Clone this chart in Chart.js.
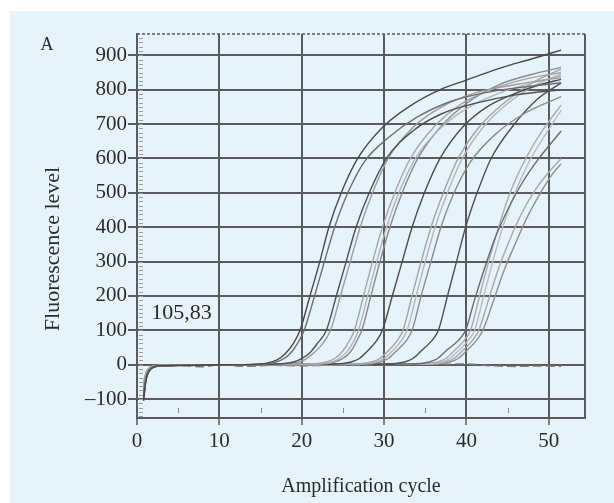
<!DOCTYPE html>
<html>
<head>
<meta charset="utf-8">
<style>
  html, body { margin: 0; padding: 0; background: #ffffff; }
  #wrap { position: relative; width: 614px; height: 503px; }
</style>
<script src="https://cdn.jsdelivr.net/npm/chart.js@4.4.1/dist/chart.umd.min.js"></script>
</head>
<body>
<div id="wrap"><canvas id="pcrChart" width="614" height="503"></canvas></div>
<script>
// axis ticks
const xTickValues = [0, 10, 20, 30, 40, 50];
const yTickValues = [-100, 0, 100, 200, 300, 400, 500, 600, 700, 800, 900];
const yTickLabels = ["\u2013100", "0", "100", "200", "300", "400", "500", "600", "700", "800", "900"];
const thresholdLabel = "105,83";
const yAxisTitle = "Fluorescence level";
const xAxisTitle = "Amplification cycle";

// amplification curves, [cycle, fluorescence]
const curve01 = [[0.8,-105],[1.1,-45],[1.5,-18],[2.2,-6],[3,-2],[6,-2],[10,0],[14,1],[16,6],[17,14],[18,32],[19,62],[19.8,100],[21,200],[22.2,300],[23.3,400],[24.8,500],[26.8,600],[29.8,690],[33,750],[36.8,800],[40,828],[44,862],[48,890],[51.5,915]];
const curve02 = [[0.8,-80],[1.1,-38],[1.5,-15],[2.2,-5],[3,-3],[6,-1],[10,0],[14,0],[16.5,5],[17.5,13],[18.5,30],[19.5,62],[20.3,100],[21.5,195],[22.7,295],[24,400],[25.6,500],[27.6,590],[30.5,660],[34,720],[38,765],[42,790],[46,805],[51.5,820]];
const curve03 = [[0.8,-95],[1.1,-40],[1.5,-16],[2.2,-5],[3,-3],[8,-2],[12,0],[17,2],[19,8],[20,18],[21,35],[22,65],[23,100],[24.2,200],[25.4,300],[26.6,400],[28.2,500],[30.3,600],[33.5,680],[37,730],[41,760],[46,785],[51.5,800]];
const curve04 = [[0.8,-70],[1.1,-30],[1.5,-12],[2.2,-4],[3,-2],[10,0],[18,3],[20,10],[21,25],[22.5,60],[23.5,100],[24.7,200],[25.9,300],[27.1,400],[28.6,500],[30.5,600],[33.5,690],[37,750],[41,790],[46,815],[51.5,835]];
const curve05 = [[0.8,-60],[1.1,-26],[1.5,-10],[2.2,-4],[3,-2],[10,0],[21,2],[23,8],[24,18],[25,40],[25.8,70],[26.4,100],[27.5,200],[28.6,300],[29.8,400],[31.3,500],[33.2,600],[36,690],[39.5,760],[43,800],[47,830],[51.5,850]];
const curve06 = [[0.8,-50],[1.1,-22],[1.5,-9],[2.2,-3],[3,-2],[10,0],[21,1],[23.5,7],[24.5,17],[25.5,38],[26.3,68],[26.9,100],[28,200],[29.1,300],[30.3,400],[31.8,500],[33.8,600],[36.5,680],[40,745],[44,790],[48,820],[51.5,840]];
const curve07 = [[0.8,-85],[1.1,-36],[1.5,-14],[2.2,-5],[3,-3],[10,0],[22,2],[24,8],[25,18],[26,40],[26.7,70],[27.3,100],[28.4,200],[29.5,300],[30.7,400],[32.2,500],[34.1,600],[36.8,690],[40,760],[44,815],[48,845],[51.5,865]];
const curve08 = [[0.8,-100],[1.1,-42],[1.5,-17],[2.2,-6],[3,-3],[10,0],[24,2],[26,8],[27,18],[28,40],[29.1,70],[29.8,100],[31,200],[32.2,300],[33.4,400],[34.9,500],[36.8,600],[39.5,690],[42.5,750],[46,790],[49,815],[51.5,830]];
const curve09 = [[0.8,-65],[1.1,-28],[1.5,-11],[2.2,-4],[3,-2],[10,0],[26,2],[28.5,8],[29.5,18],[30.5,40],[31.6,70],[32.3,100],[33.4,200],[34.5,300],[35.7,400],[37.2,500],[39,600],[41.5,690],[44.5,760],[48,820],[51.5,860]];
const curve10 = [[0.8,-55],[1.1,-24],[1.5,-10],[2.2,-3],[3,-2],[10,0],[27,2],[29,8],[30,18],[31,40],[32.1,70],[32.8,100],[33.9,200],[35,300],[36.2,400],[37.7,500],[39.5,600],[42,690],[45,760],[48.5,815],[51.5,845]];
const curve11 = [[0.8,-75],[1.1,-32],[1.5,-13],[2.2,-4],[3,-2],[10,0],[27.5,2],[29.5,8],[30.5,18],[31.5,40],[32.7,70],[33.4,100],[34.5,200],[35.7,300],[36.9,400],[38.5,500],[40.5,590],[43.5,670],[47,730],[51.5,780]];
const curve12 = [[0.8,-90],[1.1,-38],[1.5,-15],[2.2,-5],[3,-3],[10,0],[30,2],[32.5,8],[33.5,18],[34.5,40],[35.8,70],[36.6,100],[37.7,200],[38.8,300],[39.9,400],[41.3,500],[43,600],[45.5,690],[48.5,770],[51.5,820]];
const curve13 = [[0.8,-80],[1.1,-34],[1.5,-13],[2.2,-5],[3,-3],[10,0],[33,2],[35.5,8],[36.5,18],[37.5,40],[39,70],[39.9,100],[41,190],[42.2,280],[43.5,370],[45,450],[46.8,530],[48.8,600],[51.5,680]];
const curve14 = [[0.8,-60],[1.1,-26],[1.5,-10],[2.2,-4],[3,-2],[10,0],[34,2],[36.5,8],[37.5,18],[38.5,40],[39.7,70],[40.5,100],[41.6,200],[42.7,300],[43.9,400],[45.3,500],[47,590],[49.2,680],[51.5,755]];
const curve15 = [[0.8,-50],[1.1,-22],[1.5,-9],[2.2,-3],[3,-2],[10,0],[35,2],[37,8],[38,18],[39,40],[40.2,70],[41,100],[42.1,200],[43.2,300],[44.4,400],[45.9,500],[47.6,590],[49.6,670],[51.5,740]];
const curve16 = [[0.8,-70],[1.1,-30],[1.5,-12],[2.2,-4],[3,-2],[10,0],[35.5,2],[37.5,8],[38.5,18],[39.5,40],[40.7,70],[41.5,100],[42.7,190],[43.9,280],[45.2,360],[46.7,440],[48.4,510],[50,560],[51.5,600]];
const curve17 = [[0.8,-90],[1.1,-38],[1.5,-15],[2.2,-5],[3,-3],[10,0],[36,2],[38,8],[39,18],[40,40],[41.2,70],[42,100],[43.2,180],[44.5,270],[45.9,350],[47.4,430],[49,500],[50.3,550],[51.5,585]];
const negControl = [[0.8,-60],[1.1,-25],[1.5,-10],[2.2,-3],[3,-4],[5,-2],[8,-6],[10,0],[13,-5],[16,-2],[20,-3],[25,-1],[30,0],[35,1],[40,2],[43,-3],[46,-5],[49,-4],[51.5,-5]];

const curves = [curve01, curve02, curve03, curve04, curve05, curve06, curve07, curve08, curve09,
  curve10, curve11, curve12, curve13, curve14, curve15, curve16, curve17, negControl];
const curveColors = ["#4a4a4a", "#6e6e6e", "#505050", "#9c9c9c", "#a6a6a6", "#b4b4b4", "#8a8a8a", "#4c4c4c", "#a4a4a4",
  "#b6b6b6", "#8c8c8c", "#505050", "#6a6a6a", "#acacac", "#bcbcbc", "#a8a8a8", "#909090", "#7a7a7a"];

const ink = "#2b2b2b";
const gridInk = "#5b5b5b";
const serif = "'Liberation Serif', 'Times New Roman', serif";

const panelPlugin = {
  id: "panel",
  beforeDraw(chart) {
    const ctx = chart.ctx;
    ctx.save();
    ctx.fillStyle = "#ffffff";
    ctx.fillRect(0, 0, chart.width, chart.height);
    ctx.fillStyle = "#e6f3fb";
    ctx.fillRect(10, 11, chart.width - 10, chart.height - 11);
    ctx.restore();
  },
  afterDraw(chart) {
    const { ctx, chartArea: a, scales } = chart;
    ctx.save();
    // top (dashed) and right frame
    ctx.strokeStyle = gridInk;
    ctx.lineWidth = 1.5;
    ctx.setLineDash([3, 2]);
    ctx.beginPath();
    ctx.moveTo(a.left, a.top);
    ctx.lineTo(a.right, a.top);
    ctx.stroke();
    ctx.setLineDash([]);
    ctx.lineWidth = 2;
    ctx.beginPath();
    ctx.moveTo(a.right, a.top);
    ctx.lineTo(a.right, a.bottom);
    ctx.stroke();

    // minor ticks inside left edge
    ctx.strokeStyle = "#9a9a9a";
    ctx.lineWidth = 1;
    for (let v = -150; v <= 960; v += 12.5) {
      const y = Math.round(scales.y.getPixelForValue(v)) + 0.5;
      ctx.beginPath();
      ctx.moveTo(a.left + 2, y);
      ctx.lineTo(a.left + 6, y);
      ctx.stroke();
    }
    // minor ticks above bottom edge
    ctx.strokeStyle = "#8a8a8a";
    for (let c = 5; c < 54; c += 10) {
      const x = Math.round(scales.x.getPixelForValue(c)) + 0.5;
      ctx.beginPath();
      ctx.moveTo(x, a.bottom - 10);
      ctx.lineTo(x, a.bottom - 5);
      ctx.stroke();
    }

    ctx.fillStyle = ink;
    ctx.textAlign = "center";
    ctx.textBaseline = "middle";
    ctx.font = "22px " + serif;
    ctx.fillText(thresholdLabel, scales.x.getPixelForValue(5.4), scales.y.getPixelForValue(151));
    ctx.font = "18px " + serif;
    ctx.fillText("A", 47, 45);

    // y axis title, sits a little below the middle of the plot
    ctx.translate(53, 249);
    ctx.rotate(-Math.PI / 2);
    ctx.font = "22px " + serif;
    ctx.fillText(yAxisTitle, 0, 0);
    ctx.restore();
  }
};

const datasets = curves.map((pts, i) => ({
  data: pts.map(([x, y]) => ({ x, y })),
  borderColor: curveColors[i],
  borderWidth: 1.4,
  borderDash: curves[i] === negControl ? [9, 4] : [],
  pointRadius: 0,
  fill: false,
  cubicInterpolationMode: "monotone",
}));

new Chart(document.getElementById("pcrChart"), {
  type: "line",
  data: { datasets },
  options: {
    responsive: false,
    animation: false,
    events: [],
    layout: { padding: { top: 34, right: 29, left: 0, bottom: 0 } },
    plugins: { legend: { display: false }, tooltip: { enabled: false } },
    scales: {
      x: {
        type: "linear",
        min: 0,
        max: 54.4,
        afterBuildTicks: (scale) => { scale.ticks = xTickValues.map((v) => ({ value: v })); },
        afterFit: (scale) => { scale.height = 85; },
        ticks: {
          color: ink,
          font: { family: serif, size: 21 },
          padding: 4,
          maxRotation: 0,
          callback: (v) => String(v),
        },
        grid: { color: gridInk, lineWidth: 2, tickLength: 7, tickColor: gridInk, tickWidth: 1.5 },
        border: { display: true, color: gridInk, width: 2 },
        title: {
          display: true,
          text: xAxisTitle,
          color: ink,
          font: { family: serif, size: 20 },
          padding: { top: 0, bottom: 4 },
        },
      },
      y: {
        type: "linear",
        min: -155,
        max: 962,
        afterBuildTicks: (scale) => { scale.ticks = yTickValues.map((v) => ({ value: v })); },
        afterFit: (scale) => { scale.width = 137; },
        ticks: {
          color: ink,
          font: { family: serif, size: 21 },
          padding: 1,
          callback: (v) => yTickLabels[yTickValues.indexOf(v)],
        },
        grid: { color: gridInk, lineWidth: 2, tickLength: 9, tickColor: gridInk, tickWidth: 2 },
        border: { display: true, color: gridInk, width: 2 },
      },
    },
  },
  plugins: [panelPlugin],
});
</script>
</body>
</html>
